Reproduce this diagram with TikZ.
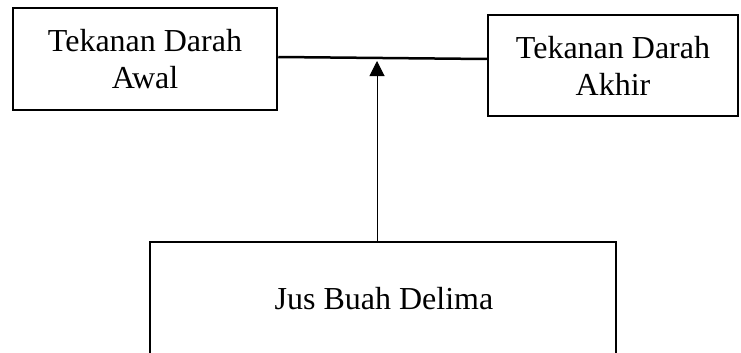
\documentclass[tikz,border=0pt]{standalone}
\usepackage{fontspec}
\setmainfont{Liberation Serif}
\usetikzlibrary{arrows.meta}
\tikzset{
  boxnode/.style={draw=black, line width=2.5pt, rectangle, inner sep=0pt,
    align=center, font=\fontsize{32}{37}\selectfont},
  txtnode/.style={inner sep=0pt, align=center, font=\fontsize{32}{37}\selectfont},
  joinline/.style={line width=2.5pt},
  arrowline/.style={line width=1pt, -{Triangle[width=15pt,length=15pt]}}
}
\begin{document}
\begin{tikzpicture}[x=1pt,y=-1pt]
\useasboundingbox (0,0) rectangle (741,353);
\clip (0,0) rectangle (741,353);
\fill[white] (0,0) rectangle (741,353);
\node[boxnode, minimum width=264pt, minimum height=102pt] (awal) at (145,59) {Tekanan Darah\\Awal};
\node[boxnode, minimum width=250pt, minimum height=101pt] (akhir) at (613,65.5) {Tekanan Darah\\Akhir};
\node[boxnode, minimum width=466pt, minimum height=140pt] (jus) at (383,312) {};
\node[txtnode] (jusl) at (384,299) {Jus Buah Delima};
\draw[joinline] ([yshift=2pt]awal.east) -- ([yshift=6.5pt]akhir.west);
\coordinate (tip) at (377,61);
\draw[arrowline] ([xshift=-6pt]jus.north) -- (tip);
\end{tikzpicture}
\end{document}
